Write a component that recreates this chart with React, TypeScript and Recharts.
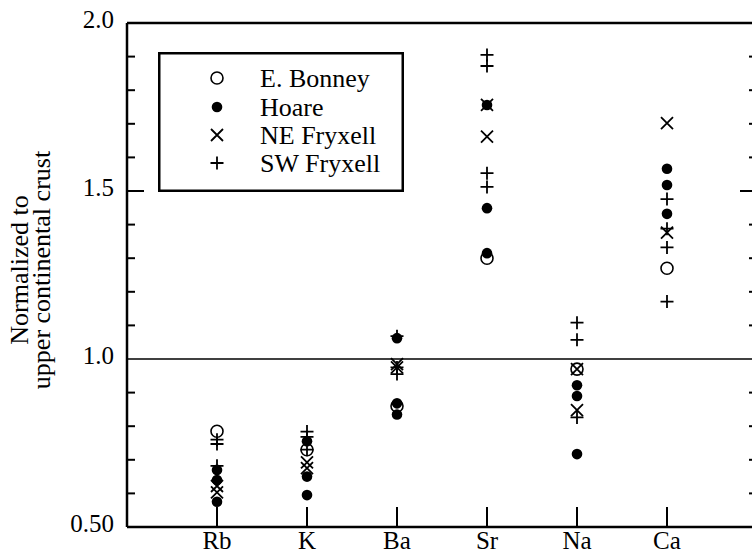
import React from 'react';
import { ScatterChart, Scatter, XAxis, YAxis, ReferenceLine, Legend, Label } from 'recharts';

const categories = ['Rb', 'K', 'Ba', 'Sr', 'Na', 'Ca'];
const seriesNames = ['E. Bonney', 'Hoare', 'NE Fryxell', 'SW Fryxell'];

// values for each category, in the order of `categories`
const eBonney = [[0.785], [0.73], [0.86], [1.3], [0.97], [1.27]];
const hoare = [
  [0.67, 0.64, 0.575],
  [0.755, 0.65, 0.595],
  [1.062, 0.868, 0.835],
  [1.756, 1.449, 1.315],
  [0.922, 0.89, 0.717],
  [1.566, 1.518, 1.432],
];
const neFryxell = [
  [0.622, 0.603],
  [0.692, 0.675],
  [0.985, 0.975],
  [1.756, 1.662],
  [0.97, 0.848],
  [1.702, 1.376],
];
const swFryxell = [
  [0.76, 0.747, 0.682],
  [0.784, 0.768, 0.73],
  [1.068, 0.975, 0.955],
  [1.905, 1.872, 1.553, 1.512],
  [1.108, 1.057, 0.826],
  [1.476, 1.388, 1.332, 1.171],
];

const yMajorTicks = [0.5, 1.0, 1.5, 2.0];
const yMajorLabels = ['0.50', '1.0', '1.5', '2.0'];
const yMinorTicks = [0.6, 0.7, 0.8, 0.9, 1.1, 1.2, 1.3, 1.4, 1.6, 1.7, 1.8, 1.9];
const yDomain = [0.5, 2.0];
const xDomain = [0, categories.length + 1];

const FONT = '"Liberation Serif", "Times New Roman", serif';

const toPoints = (vals: number[][]) =>
  vals.flatMap((arr, i) => arr.map((v) => ({ x: i + 1, y: v })));

const xTicks = categories.map((_, i) => i + 1);
const yTicks = [...yMajorTicks, ...yMinorTicks].sort((a, b) => a - b);

const OpenCircle = (p: any) => (
  <circle cx={p.cx} cy={p.cy} r={6} fill="none" stroke="#000" strokeWidth={1.6} />
);
const FilledCircle = (p: any) => <circle cx={p.cx} cy={p.cy} r={5.3} fill="#000" />;
const Cross = (p: any) => {
  const s = 6;
  const { cx, cy } = p;
  return (
    <path
      d={`M${cx - s},${cy - s}L${cx + s},${cy + s}M${cx - s},${cy + s}L${cx + s},${cy - s}`}
      stroke="#000"
      strokeWidth={1.8}
      fill="none"
    />
  );
};
const Plus = (p: any) => {
  const s = 6.5;
  const { cx, cy } = p;
  return (
    <path
      d={`M${cx - s},${cy}L${cx + s},${cy}M${cx},${cy - s}L${cx},${cy + s}`}
      stroke="#000"
      strokeWidth={1.8}
      fill="none"
    />
  );
};
const shapes = [OpenCircle, FilledCircle, Cross, Plus];

const majorLabel = (v: number) => {
  const i = yMajorTicks.findIndex((m) => Math.abs(m - v) < 1e-6);
  return i >= 0 ? yMajorLabels[i] : null;
};
const tickLen = (v: number) => (Math.abs(v - 1.5) < 1e-6 ? 17 : 8);

const LeftTick = (props: any) => {
  const { x, y, payload } = props;
  const v = payload.value;
  const lab = majorLabel(v);
  const drawLine = v > 0.51 && v < 1.99 && Math.abs(v - 1) > 1e-6;
  return (
    <g>
      {drawLine && <line x1={x} x2={x + tickLen(v)} y1={y} y2={y} stroke="#000" strokeWidth={2} />}
      {lab && (
        <text x={x - 13} y={y + 5} textAnchor="end" fontFamily={FONT} fontSize={25} fill="#000">
          {lab}
        </text>
      )}
    </g>
  );
};

const RightTick = (props: any) => {
  const { x, y, payload } = props;
  const v = payload.value;
  const drawLine = v > 0.51 && v < 1.99 && Math.abs(v - 1) > 1e-6;
  return (
    <g>
      {drawLine && <line x1={x} x2={x - tickLen(v)} y1={y} y2={y} stroke="#000" strokeWidth={2} />}
    </g>
  );
};

const BottomTick = (props: any) => {
  const { x, y, payload } = props;
  const name = categories[payload.value - 1];
  return (
    <g>
      <line x1={x} x2={x} y1={y} y2={y - 20} stroke="#000" strokeWidth={2} />
      <text x={x} y={y + 22} textAnchor="middle" fontFamily={FONT} fontSize={25} fill="#000">
        {name}
      </text>
    </g>
  );
};

const YTitle = () => (
  <g>
    <text
      transform="translate(28,270) rotate(-90)"
      textAnchor="middle"
      fontFamily={FONT}
      fontSize={26}
      fill="#000"
    >
      Normalized to
    </text>
    <text
      transform="translate(50,270) rotate(-90)"
      textAnchor="middle"
      fontFamily={FONT}
      fontSize={26}
      fill="#000"
    >
      upper continental crust
    </text>
  </g>
);

const LegendBox = () => {
  const rowY = [26, 55, 83, 111];
  return (
    <svg width={246} height={140} style={{ display: 'block' }}>
      <rect x={1.25} y={1.25} width={243.5} height={137.5} fill="#fff" stroke="#000" strokeWidth={2.5} />
      {seriesNames.map((name, i) => {
        const Shape = shapes[i];
        return (
          <g key={name}>
            <Shape cx={59} cy={rowY[i]} />
            <text x={102} y={rowY[i] + 9} fontFamily={FONT} fontSize={26} fill="#000">
              {name}
            </text>
          </g>
        );
      })}
    </svg>
  );
};

const seriesData = [eBonney, hoare, neFryxell, swFryxell];

export default function App() {
  return (
    <div
      style={{
        position: 'absolute',
        left: 0,
        top: 0,
        width: 752,
        height: 555,
        overflow: 'hidden',
        background: '#fff',
      }}
    >
      <ScatterChart width={770} height={555} margin={{ top: 23, right: 12, bottom: 27, left: 126 }}>
        <XAxis
          type="number"
          dataKey="x"
          domain={xDomain}
          ticks={xTicks}
          interval={0}
          height={1}
          tickSize={0}
          tickMargin={0}
          tickLine={false}
          axisLine={{ stroke: '#000', strokeWidth: 2.5 }}
          tick={BottomTick}
          allowDataOverflow
        />
        <YAxis
          type="number"
          dataKey="y"
          domain={yDomain}
          ticks={yTicks}
          interval={0}
          width={1}
          tickSize={0}
          tickMargin={0}
          tickLine={false}
          axisLine={{ stroke: '#000', strokeWidth: 2.5 }}
          tick={LeftTick}
          allowDataOverflow
        >
          <Label content={YTitle} />
        </YAxis>
        <YAxis
          yAxisId="r"
          orientation="right"
          type="number"
          domain={yDomain}
          ticks={yTicks}
          interval={0}
          width={1}
          tickSize={0}
          tickMargin={0}
          tickLine={false}
          axisLine={{ stroke: '#000', strokeWidth: 2.5 }}
          tick={RightTick}
          allowDataOverflow
        />
        <ReferenceLine y={1} stroke="#000" strokeWidth={1.6} />
        <ReferenceLine y={2} stroke="#000" strokeWidth={2.5} />
        {seriesData.map((vals, i) => (
          <Scatter
            key={seriesNames[i]}
            name={seriesNames[i]}
            data={toPoints(vals)}
            shape={shapes[i]}
            isAnimationActive={false}
          />
        ))}
        <Legend
          layout="vertical"
          align="center"
          verticalAlign="middle"
          content={LegendBox}
          wrapperStyle={{ position: 'absolute', left: 158, top: 52, width: 246, height: 140 }}
        />
      </ScatterChart>
    </div>
  );
}
